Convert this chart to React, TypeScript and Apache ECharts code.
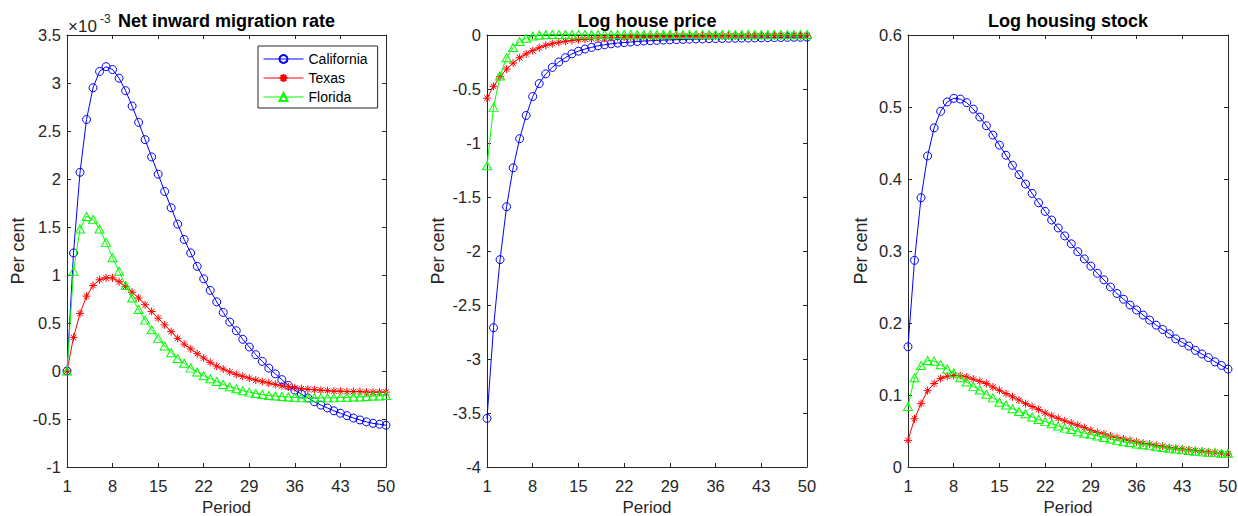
import React, { useEffect, useRef } from 'react';
import * as echarts from 'echarts';

const periods = Array.from({ length: 50 }, (_, i) => String(i + 1));
const xTickLabels = ['1', '8', '15', '22', '29', '36', '43', '50'];
const seriesNames = ['California', 'Texas', 'Florida'];
const panelTitles = ['Net inward migration rate', 'Log house price', 'Log housing stock'];
const yRanges = [
  [-1, 3.5, 0.5],
  [-4, 0, 0.5],
  [0, 0.6, 0.1],
];

// Panel 1: net inward migration rate (x 10^-3)
const migCalifornia = [
  0, 1.23, 2.07, 2.62, 2.95, 3.12, 3.17, 3.14, 3.05, 2.92,
  2.76, 2.59, 2.41, 2.23, 2.05, 1.87, 1.7, 1.53, 1.37, 1.23,
  1.09, 0.96, 0.84, 0.72, 0.61, 0.51, 0.42, 0.33, 0.25, 0.17,
  0.1, 0.03, -0.03, -0.09, -0.15, -0.2, -0.24, -0.28, -0.32, -0.355,
  -0.385, -0.415, -0.44, -0.465, -0.49, -0.51, -0.53, -0.545, -0.555, -0.565,
];
const migTexas = [
  0, 0.35, 0.6, 0.78, 0.89, 0.95, 0.97, 0.97, 0.93, 0.88,
  0.82, 0.76, 0.69, 0.62, 0.55, 0.48, 0.41, 0.34, 0.28, 0.23,
  0.18, 0.135, 0.09, 0.05, 0.02, -0.01, -0.035, -0.055, -0.075, -0.095,
  -0.11, -0.125, -0.14, -0.155, -0.165, -0.175, -0.185, -0.19, -0.195, -0.2,
  -0.205, -0.21, -0.21, -0.215, -0.215, -0.215, -0.22, -0.22, -0.22, -0.22,
];
const migFlorida = [
  0, 1.04, 1.48, 1.61, 1.58, 1.48, 1.34, 1.18, 1.04, 0.89,
  0.76, 0.64, 0.53, 0.43, 0.34, 0.26, 0.19, 0.13, 0.08, 0.03,
  -0.01, -0.05, -0.08, -0.11, -0.14, -0.165, -0.185, -0.205, -0.22, -0.235,
  -0.245, -0.255, -0.26, -0.265, -0.27, -0.275, -0.28, -0.28, -0.28, -0.28,
  -0.28, -0.28, -0.275, -0.275, -0.27, -0.27, -0.265, -0.26, -0.26, -0.255,
];

// Panel 2: log house price
const priceCalifornia = [
  -3.55, -2.71, -2.08, -1.59, -1.23, -0.96, -0.745, -0.57, -0.45, -0.36,
  -0.3, -0.25, -0.21, -0.175, -0.15, -0.13, -0.115, -0.1, -0.09, -0.082,
  -0.075, -0.07, -0.065, -0.06, -0.056, -0.053, -0.05, -0.047, -0.045, -0.043,
  -0.041, -0.039, -0.037, -0.036, -0.034, -0.033, -0.032, -0.031, -0.03, -0.029,
  -0.028, -0.027, -0.026, -0.025, -0.024, -0.023, -0.022, -0.021, -0.021, -0.02,
];
const priceTexas = [
  -0.585, -0.475, -0.385, -0.315, -0.26, -0.21, -0.175, -0.145, -0.118, -0.095,
  -0.08, -0.068, -0.058, -0.05, -0.044, -0.039, -0.035, -0.031, -0.028, -0.025,
  -0.023, -0.021, -0.019, -0.018, -0.017, -0.016, -0.015, -0.014, -0.013, -0.012,
  -0.012, -0.011, -0.011, -0.01, -0.01, -0.009, -0.009, -0.008, -0.008, -0.008,
  -0.007, -0.007, -0.007, -0.006, -0.006, -0.006, -0.005, -0.005, -0.005, -0.005,
];
const priceFlorida = [
  -1.21, -0.67, -0.38, -0.21, -0.115, -0.06, -0.03, -0.01, 0.0, 0.003,
  0.004, 0.005, 0.005, 0.005, 0.005, 0.005, 0.005, 0.005, 0.005, 0.005,
  0.005, 0.005, 0.005, 0.005, 0.005, 0.005, 0.005, 0.005, 0.005, 0.005,
  0.005, 0.005, 0.005, 0.005, 0.005, 0.005, 0.005, 0.005, 0.005, 0.005,
  0.005, 0.005, 0.005, 0.005, 0.005, 0.005, 0.005, 0.005, 0.005, 0.005,
];

// Panel 3: log housing stock
const stockCalifornia = [
  0.167, 0.287, 0.374, 0.432, 0.471, 0.494, 0.507, 0.512, 0.511, 0.506,
  0.497, 0.486, 0.474, 0.461, 0.447, 0.433, 0.419, 0.406, 0.393, 0.38,
  0.367, 0.355, 0.343, 0.332, 0.321, 0.31, 0.299, 0.289, 0.279, 0.269,
  0.26, 0.25, 0.241, 0.233, 0.225, 0.218, 0.211, 0.204, 0.197, 0.191,
  0.185, 0.178, 0.173, 0.168, 0.162, 0.157, 0.152, 0.146, 0.141, 0.136,
];
const stockTexas = [
  0.037, 0.067, 0.088, 0.106, 0.116, 0.123, 0.126, 0.127, 0.127, 0.125,
  0.122, 0.119, 0.116, 0.111, 0.1065, 0.102, 0.0975, 0.093, 0.088, 0.084,
  0.08, 0.075, 0.071, 0.0676, 0.064, 0.061, 0.058, 0.0547, 0.051, 0.048,
  0.046, 0.043, 0.041, 0.039, 0.037, 0.035, 0.033, 0.032, 0.03, 0.029,
  0.027, 0.026, 0.025, 0.024, 0.023, 0.022, 0.021, 0.02, 0.019, 0.018,
];
const stockFlorida = [
  0.084, 0.124, 0.141, 0.148, 0.147, 0.142, 0.136, 0.1305, 0.124, 0.118,
  0.112, 0.107, 0.101, 0.096, 0.09, 0.086, 0.081, 0.077, 0.074, 0.0695,
  0.066, 0.063, 0.06, 0.057, 0.054, 0.052, 0.049, 0.047, 0.045, 0.043,
  0.041, 0.039, 0.037, 0.035, 0.034, 0.032, 0.031, 0.03, 0.028, 0.027,
  0.026, 0.025, 0.024, 0.023, 0.022, 0.021, 0.02, 0.02, 0.019, 0.019,
];

const panelData = [
  [migCalifornia, migTexas, migFlorida],
  [priceCalifornia, priceTexas, priceFlorida],
  [stockCalifornia, stockTexas, stockFlorida],
];

const FONT = '"Liberation Sans", Arial, Helvetica, sans-serif';
const AXIS_COLOR = '#262626';
const COLORS = ['#0000ff', '#ff0000', '#00ff00'];
const SYMBOLS = [
  'circle',
  'path://M4,0L4,8M0,4L8,4M1.2,1.2L6.8,6.8M1.2,6.8L6.8,1.2',
  'triangle',
];
const SYMBOL_SIZES: any[] = [8, 8, [9, 8]];

const GRIDS = [
  { left: 67, top: 35, width: 319, height: 432 },
  { left: 487, top: 35, width: 320, height: 432 },
  { left: 908, top: 35, width: 320, height: 432 },
];

const showTick = (_idx: number, val: string) => xTickLabels.includes(val);

function buildOption() {
  const xAxis: any[] = [];
  const yAxis: any[] = [];
  const series: any[] = [];
  const title: any[] = [];

  GRIDS.forEach((g, gi) => {
    xAxis.push({
      type: 'category',
      gridIndex: gi,
      data: periods,
      boundaryGap: false,
      position: 'bottom',
      name: 'Period',
      nameLocation: 'middle',
      nameGap: 31,
      nameTextStyle: { fontSize: 17, color: AXIS_COLOR, fontFamily: FONT },
      axisLine: { onZero: false, lineStyle: { color: AXIS_COLOR, width: 1 } },
      axisTick: { inside: true, length: 4, interval: showTick, lineStyle: { color: AXIS_COLOR } },
      axisLabel: { interval: showTick, fontSize: 16.5, color: AXIS_COLOR, fontFamily: FONT, margin: 10 },
      splitLine: { show: false },
    });
    xAxis.push({
      type: 'category',
      gridIndex: gi,
      data: periods,
      boundaryGap: false,
      position: 'top',
      axisLine: { onZero: false, lineStyle: { color: AXIS_COLOR, width: 1 } },
      axisTick: { inside: true, length: 4, interval: showTick, lineStyle: { color: AXIS_COLOR } },
      axisLabel: { show: false },
      splitLine: { show: false },
    });
    const [mn, mx, iv] = yRanges[gi];
    yAxis.push({
      type: 'value',
      gridIndex: gi,
      min: mn,
      max: mx,
      interval: iv,
      position: 'left',
      name: 'Per cent',
      nameLocation: 'middle',
      nameGap: gi === 2 ? 38 : 40,
      nameTextStyle: { fontSize: 18, color: AXIS_COLOR, fontFamily: FONT },
      axisLine: { show: true, onZero: false, lineStyle: { color: AXIS_COLOR, width: 1 } },
      axisTick: { show: true, inside: true, length: 4, lineStyle: { color: AXIS_COLOR } },
      axisLabel: { fontSize: 16.5, color: AXIS_COLOR, fontFamily: FONT, margin: 6 },
      splitLine: { show: false },
    });
    yAxis.push({
      type: 'value',
      gridIndex: gi,
      min: mn,
      max: mx,
      interval: iv,
      position: 'right',
      axisLine: { show: true, onZero: false, lineStyle: { color: AXIS_COLOR, width: 1 } },
      axisTick: { show: true, inside: true, length: 4, lineStyle: { color: AXIS_COLOR } },
      axisLabel: { show: false },
      splitLine: { show: false },
    });
    title.push({
      text: panelTitles[gi],
      left: g.left + g.width / 2,
      top: 12,
      textAlign: 'center',
      padding: 0,
      textStyle: { fontSize: 18, fontWeight: 'bold', color: '#000', fontFamily: FONT },
    });
    panelData[gi].forEach((vals, si) => {
      series.push({
        type: 'line',
        name: seriesNames[si],
        xAxisIndex: gi * 2,
        yAxisIndex: gi * 2,
        data: vals,
        symbol: SYMBOLS[si],
        symbolSize: SYMBOL_SIZES[si],
        showAllSymbol: true,
        clip: false,
        lineStyle: { color: COLORS[si], width: 1 },
        itemStyle: { color: 'rgba(0,0,0,0)', borderColor: COLORS[si], borderWidth: 1 },
        emphasis: { disabled: true },
        z: 2 + si,
      });
    });
  });

  return {
    animation: false,
    backgroundColor: '#ffffff',
    title,
    grid: GRIDS.map((g) => ({ ...g, containLabel: false, outerBoundsMode: 'none' })),
    xAxis,
    yAxis,
    series,
    legend: {
      data: seriesNames,
      orient: 'vertical',
      left: 258,
      top: 46,
      itemWidth: 40,
      itemHeight: 10,
      itemGap: 5,
      padding: [6, 10, 4, 5],
      borderColor: AXIS_COLOR,
      borderWidth: 1,
      backgroundColor: '#ffffff',
      selectedMode: false,
      lineStyle: { width: 1 },
      textStyle: { fontSize: 14, color: '#000', fontFamily: FONT },
    },
    graphic: [
      {
        type: 'text',
        left: 68,
        top: 18,
        style: { text: '×10', fontSize: 17, fill: AXIS_COLOR, fontFamily: FONT },
      },
      {
        type: 'text',
        left: 100,
        top: 13,
        style: { text: '-3', fontSize: 12, fill: AXIS_COLOR, fontFamily: FONT },
      },
    ],
  };
}

export default function App() {
  const ref = useRef<HTMLDivElement>(null);
  useEffect(() => {
    if (!ref.current) return;
    const chart = echarts.init(ref.current, undefined, { renderer: 'svg' });
    chart.setOption(buildOption() as any);
    return () => chart.dispose();
  }, []);
  return (
    <div
      ref={ref}
      style={{ position: 'fixed', left: 0, top: 0, width: 1238, height: 516, background: '#fff' }}
    />
  );
}
